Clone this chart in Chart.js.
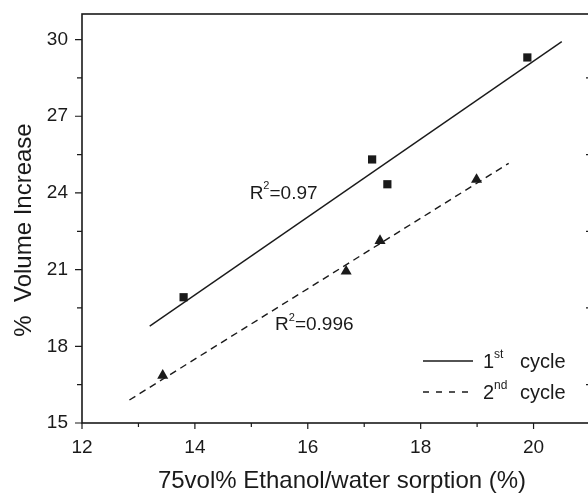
<!DOCTYPE html>
<html>
<head>
<meta charset="utf-8">
<script src="https://cdn.jsdelivr.net/npm/chart.js@4"></script>
<style>
  html, body { margin: 0; padding: 0; background: #fff; overflow: hidden; }
  #wrap { width: 600px; height: 493px; }
</style>
</head>
<body>
<div id="wrap"><canvas id="chart" width="600" height="493"></canvas></div>
<script>
// values
const cycle1X = [13.80, 17.14, 17.41, 19.89];
const cycle1Y = [19.92, 25.31, 24.34, 29.30];
const cycle2X = [13.43, 16.68, 17.28, 18.99];
const cycle2Y = [16.86, 20.93, 22.13, 24.52];
// fitted lines (end points)
const fit1X = [13.2, 20.5];
const fit1Y = [18.79, 29.92];
const fit2X = [12.84, 19.56];
const fit2Y = [15.90, 25.16];

const xTicks = [12, 14, 16, 18, 20];
const yTicks = [15, 18, 21, 24, 27, 30];
const r2Labels = ['0.97', '0.996'];
const legendLabels = [['1', 'st'], ['2', 'nd']];
const xTitle = '75vol% Ethanol/water sorption (%)';
const yTitle = '%  Volume Increase';

const ink = '#1a1a1a';
const FONT = '"Liberation Sans", Arial, sans-serif';

const pts = (xs, ys) => xs.map((x, i) => ({ x: x, y: ys[i] }));

// draw "R" + superscript etc.
function richText(ctx, x, y, parts, size) {
  parts.forEach(([t, sup]) => {
    ctx.font = (sup ? Math.round(size * 0.6) : size) + 'px ' + FONT;
    ctx.fillText(t, x, sup ? y - size * 0.38 : y);
    x += ctx.measureText(t).width;
  });
  return x;
}

const decor = {
  id: 'decor',
  afterDraw(chart) {
    const { ctx, chartArea: a, scales: { x, y } } = chart;
    ctx.save();
    ctx.strokeStyle = ink;
    ctx.fillStyle = ink;

    // frame
    ctx.lineWidth = 1.6;
    ctx.strokeRect(a.left, a.top, a.right - a.left, a.bottom - a.top);

    // ticks
    ctx.lineWidth = 1.2;
    ctx.beginPath();
    xTicks.forEach(v => {
      const px = x.getPixelForValue(v);
      ctx.moveTo(px, a.bottom); ctx.lineTo(px, a.bottom + 6);
      const mx = x.getPixelForValue(v + 1);
      if (v + 1 < x.max) { ctx.moveTo(mx, a.bottom); ctx.lineTo(mx, a.bottom + 4); }
    });
    yTicks.forEach(v => {
      const py = y.getPixelForValue(v);
      ctx.moveTo(a.left - 7, py); ctx.lineTo(a.left, py);
      if (v + 1.5 < y.max) {
        const my = y.getPixelForValue(v + 1.5);
        ctx.moveTo(a.left - 5, my); ctx.lineTo(a.left, my);
        ctx.moveTo(a.right - 4, my); ctx.lineTo(a.right, my);
      }
    });
    ctx.stroke();

    // axis titles
    ctx.font = '24px ' + FONT;
    ctx.textAlign = 'center';
    ctx.textBaseline = 'middle';
    ctx.fillText(xTitle, 342, 481);
    ctx.save();
    ctx.translate(24, 230);
    ctx.rotate(-Math.PI / 2);
    ctx.fillText(yTitle, 0, 0);
    ctx.restore();

    // R^2 notes
    ctx.textAlign = 'left';
    richText(ctx, x.getPixelForValue(14.97), y.getPixelForValue(23.98),
      [['R'], ['2', true], ['=' + r2Labels[0]]], 19);
    richText(ctx, x.getPixelForValue(15.42), y.getPixelForValue(18.83),
      [['R'], ['2', true], ['=' + r2Labels[1]]], 19);

    // legend
    const lx = a.right - 167, ly = [a.bottom - 62, a.bottom - 31];
    legendLabels.forEach((lab, i) => {
      ctx.lineWidth = 1.4;
      ctx.setLineDash(i === 0 ? [] : [6, 7]);
      ctx.beginPath();
      ctx.moveTo(lx, ly[i]); ctx.lineTo(lx + 50, ly[i]);
      ctx.stroke();
      ctx.setLineDash([]);
      richText(ctx, lx + 60, ly[i] + 1, [[lab[0]], [lab[1], true]], 20);
      ctx.font = '20px ' + FONT;
      ctx.fillText('cycle', lx + 97, ly[i] + 1);
    });
    ctx.restore();
  }
};

new Chart(document.getElementById('chart'), {
  type: 'scatter',
  data: {
    datasets: [
      {
        label: '1st cycle',
        data: pts(cycle1X, cycle1Y),
        pointStyle: 'rect',
        pointRadius: 5.8,
        backgroundColor: ink,
        borderColor: ink,
        borderWidth: 0
      },
      {
        label: '2nd cycle',
        data: pts(cycle2X, cycle2Y),
        pointStyle: 'triangle',
        pointRadius: 6.4,
        backgroundColor: ink,
        borderColor: ink,
        borderWidth: 0
      },
      {
        label: 'fit 1',
        data: pts(fit1X, fit1Y),
        showLine: true,
        pointRadius: 0,
        borderColor: ink,
        borderWidth: 1.4
      },
      {
        label: 'fit 2',
        data: pts(fit2X, fit2Y),
        showLine: true,
        pointRadius: 0,
        borderColor: ink,
        borderWidth: 1.4,
        borderDash: [7, 5]
      }
    ]
  },
  options: {
    responsive: false,
    animation: false,
    events: [],
    layout: { padding: { top: 14, right: 10, left: 0, bottom: 0 } },
    plugins: { legend: { display: false }, tooltip: { enabled: false } },
    scales: {
      x: {
        type: 'linear',
        min: 12,
        max: 21,
        grid: { display: false, drawTicks: false },
        border: { display: false },
        afterFit: s => { s.height = 70; s.paddingLeft = 0; s.paddingRight = 0; },
        afterBuildTicks: s => { s.ticks = xTicks.map(v => ({ value: v })); },
        ticks: { color: ink, padding: 13, font: { family: FONT, size: 19 } }
      },
      y: {
        type: 'linear',
        min: 15,
        max: 31,
        grid: { display: false, drawTicks: false },
        border: { display: false },
        afterFit: s => { s.width = 82; s.paddingTop = 0; s.paddingBottom = 0; },
        afterBuildTicks: s => { s.ticks = yTicks.map(v => ({ value: v })); },
        ticks: { color: ink, padding: 14, font: { family: FONT, size: 19 } }
      }
    }
  },
  plugins: [decor]
});
</script>
</body>
</html>
